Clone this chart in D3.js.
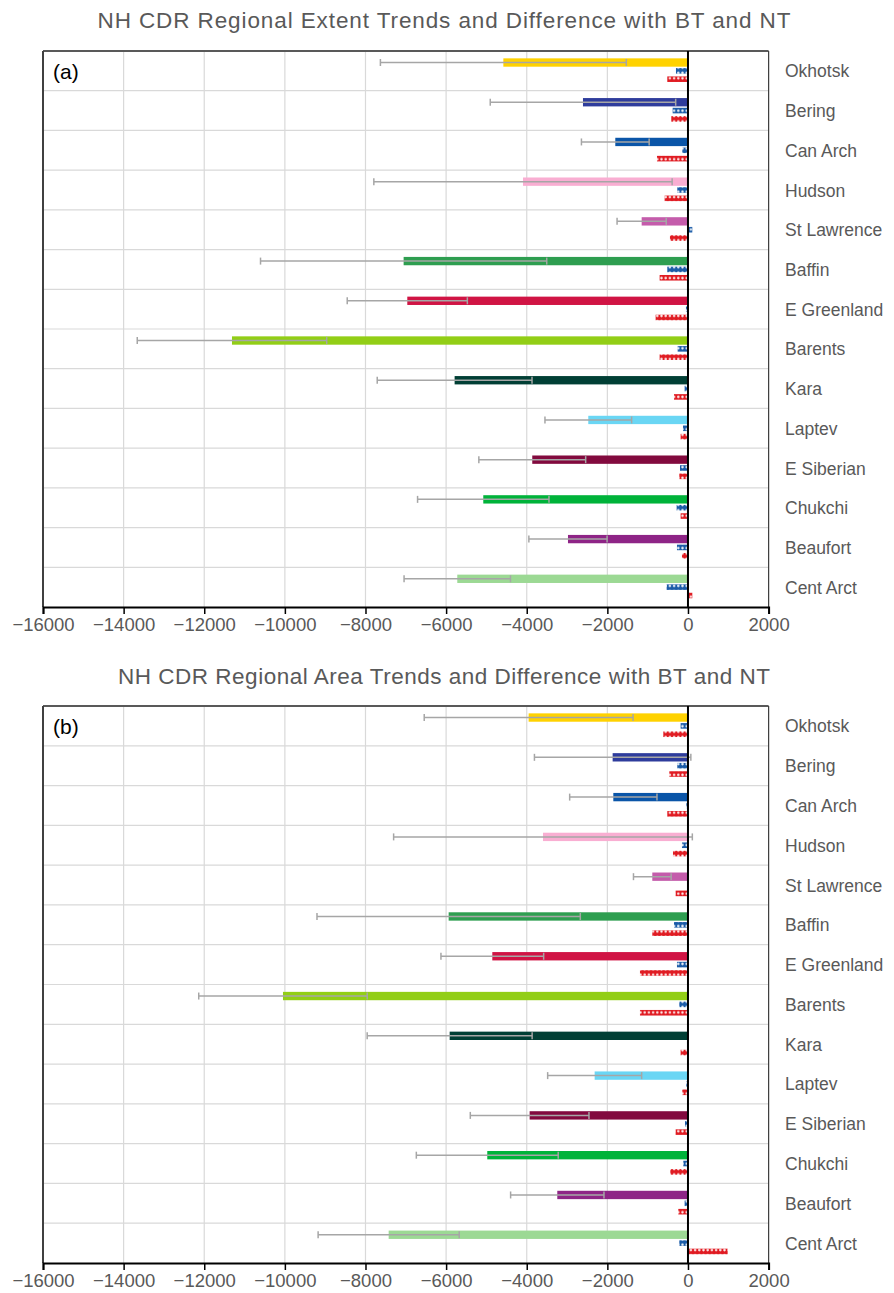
<!DOCTYPE html>
<html>
<head>
<meta charset="utf-8">
<script src="https://cdn.jsdelivr.net/npm/d3@7/dist/d3.min.js"></script>
<style>
  html, body { margin: 0; padding: 0; background: #fff; }
  svg { display: block; font-family: "Liberation Sans", Arial, sans-serif; }
</style>
</head>
<body>
<svg id="chart" width="894" height="1293"></svg>
<script>
// Regions, top to bottom
const regions = ["Okhotsk", "Bering", "Can Arch", "Hudson", "St Lawrence", "Baffin",
  "E Greenland", "Barents", "Kara", "Laptev", "E Siberian", "Chukchi", "Beaufort", "Cent Arct"];

const regionColors = ["#FFD200", "#2E3C9C", "#0A55A8", "#F9AED2", "#C45CAB", "#2E9E50",
  "#D01444", "#92CE16", "#013F35", "#6AD6F4", "#820A3E", "#00B33A", "#8E2486", "#9CD994"];

// Extent: CDR trend, its uncertainty, and differences with BT and NT (km² per year)
const extentCDR = [-4580, -2605, -1803, -4093, -1149, -7054, -6963, -11312, -5789, -2473, -3863, -5078, -2977, -5723];
const extentErr = [3050, 2300, 840, 3700, 610, 3550, 1490, 2350, 1920, 1075, 1325, 1630, 970, 1320];
const extentBT  = [-298, -380, -141, -265, 107, -513, -50, -256, -83, -124, -198, -281, -273, -529];
const extentNT  = [-513, -414, -769, -579, -447, -703, -802, -703, -347, -182, -215, -182, -149, 107];

// Area: CDR trend, its uncertainty, and differences with BT and NT
const areaCDR = [-3953, -1869, -1852, -3597, -885, -5937, -4854, -10047, -5912, -2315, -3928, -4979, -3242, -7425];
const areaErr = [2590, 1940, 1083, 3705, 467, 3266, 1274, 2090, 2046, 1166, 1472, 1760, 1158, 1750];
const areaBT  = [-182, -265, -41, -149, 0, -347, -273, -215, -25, -41, -74, -116, -83, -215];
const areaNT  = [-612, -463, -513, -372, -306, -885, -1191, -1191, -182, -141, -306, -438, -240, 984];

const xTicks = [-16000, -14000, -12000, -10000, -8000, -6000, -4000, -2000, 0, 2000];

const panels = [
  { title: "NH CDR Regional Extent Trends and Difference with BT and NT", tag: "(a)",
    cdr: extentCDR, err: extentErr, bt: extentBT, nt: extentNT, top: 51, bottom: 607, titleY: 28, titleW: 693 },
  { title: "NH CDR Regional Area Trends and Difference with BT and NT", tag: "(b)",
    cdr: areaCDR, err: areaErr, bt: areaBT, nt: areaNT, top: 706, bottom: 1263, titleY: 684, titleW: 652 }
];

const svg = d3.select("#chart");
const x = d3.scaleLinear().domain([-16000, 2000]).range([43, 768.6]);

// Dotted fills for the BT and NT difference bars
const defs = svg.append("defs");
function dotPattern(id, color) {
  const p = defs.append("pattern").attr("id", id)
    .attr("patternUnits", "userSpaceOnUse").attr("width", 4.2).attr("height", 5.4);
  p.append("rect").attr("width", 4.2).attr("height", 5.4).attr("fill", color);
  p.append("ellipse").attr("cx", 2.1).attr("cy", 2.7).attr("rx", 1.2).attr("ry", 1.3).attr("fill", "#fff").attr("opacity", 0.9);
}

panels.forEach((pn, pi) => {
  const y = d3.scaleBand().domain(regions).range([pn.top, pn.bottom]).padding(0);
  const bw = y.bandwidth();
  const g = svg.append("g");

  dotPattern("btDots" + pi, "#1B5CA8");
  dotPattern("ntDots" + pi, "#E01B22");

  // Title
  g.append("text").attr("x", 444).attr("y", pn.titleY).attr("text-anchor", "middle")
    .attr("font-size", 22.5).attr("fill", "#595959")
    .attr("textLength", pn.titleW).attr("lengthAdjust", "spacing").text(pn.title);

  // Vertical gridlines
  g.selectAll(".vgrid").data(xTicks.filter(t => t > -16000 && t !== 0)).join("line")
    .attr("x1", d => x(d)).attr("x2", d => x(d))
    .attr("y1", pn.top).attr("y2", pn.bottom)
    .attr("stroke", "#d9d9d9").attr("stroke-width", 1.2);

  // Horizontal band separators
  g.selectAll(".hgrid").data(regions.slice(1)).join("line")
    .attr("x1", x(-16000)).attr("x2", x(2000))
    .attr("y1", d => y(d)).attr("y2", d => y(d))
    .attr("stroke", "#d9d9d9").attr("stroke-width", 1.2);

  // Frame: top, left and right edges
  g.append("line").attr("x1", x(-16000)).attr("x2", x(2000)).attr("y1", pn.top).attr("y2", pn.top)
    .attr("stroke", "#595959").attr("stroke-width", 2);
  g.append("line").attr("x1", x(-16000)).attr("x2", x(-16000)).attr("y1", pn.top).attr("y2", pn.bottom)
    .attr("stroke", "#404040").attr("stroke-width", 2);
  g.append("line").attr("x1", x(2000)).attr("x2", x(2000)).attr("y1", pn.top).attr("y2", pn.bottom)
    .attr("stroke", "#404040").attr("stroke-width", 1.2);

  const rows = regions.map((r, i) => ({ r, i, cdr: pn.cdr[i], err: pn.err[i], bt: pn.bt[i], nt: pn.nt[i], c: regionColors[i] }));

  // CDR trend bars
  g.selectAll(".cdr").data(rows).join("rect")
    .attr("x", d => x(Math.min(0, d.cdr))).attr("width", d => Math.abs(x(d.cdr) - x(0)))
    .attr("y", d => y(d.r) + bw * 0.185).attr("height", bw * 0.21)
    .attr("fill", d => d.c);

  // BT difference bars
  g.selectAll(".bt").data(rows).join("rect")
    .attr("x", d => x(Math.min(0, d.bt))).attr("width", d => Math.abs(x(d.bt) - x(0)))
    .attr("y", d => y(d.r) + bw * 0.43).attr("height", bw * 0.14)
    .attr("fill", "url(#btDots" + pi + ")");

  // NT difference bars
  g.selectAll(".nt").data(rows).join("rect")
    .attr("x", d => x(Math.min(0, d.nt))).attr("width", d => Math.abs(x(d.nt) - x(0)))
    .attr("y", d => y(d.r) + bw * 0.64).attr("height", bw * 0.14)
    .attr("fill", "url(#ntDots" + pi + ")");

  // Uncertainty whiskers on the CDR trend
  const ec = "#a6a6a6";
  const yc = d => y(d.r) + bw * 0.185 + bw * 0.105;
  g.selectAll(".ebar").data(rows).join("line")
    .attr("x1", d => x(d.cdr - d.err)).attr("x2", d => x(d.cdr + d.err))
    .attr("y1", yc).attr("y2", yc).attr("stroke", ec).attr("stroke-width", 1.5);
  g.selectAll(".ecapL").data(rows).join("line")
    .attr("x1", d => x(d.cdr - d.err)).attr("x2", d => x(d.cdr - d.err))
    .attr("y1", d => yc(d) - 3.5).attr("y2", d => yc(d) + 3.5).attr("stroke", ec).attr("stroke-width", 1.5);
  g.selectAll(".ecapR").data(rows).join("line")
    .attr("x1", d => x(d.cdr + d.err)).attr("x2", d => x(d.cdr + d.err))
    .attr("y1", d => yc(d) - 3.5).attr("y2", d => yc(d) + 3.5).attr("stroke", ec).attr("stroke-width", 1.5);

  // Zero line
  g.append("line").attr("x1", x(0)).attr("x2", x(0)).attr("y1", pn.top).attr("y2", pn.bottom)
    .attr("stroke", "#000").attr("stroke-width", 2);

  // Region labels
  g.selectAll(".lab").data(regions).join("text")
    .attr("x", 785).attr("y", d => y(d) + bw * 0.5 + 6.5)
    .attr("font-size", 17.5).attr("fill", "#595959").text(d => d);

  // Panel tag
  g.append("text").attr("x", 53).attr("y", pn.top + 28).attr("font-size", 21).attr("fill", "#000").text(pn.tag);

  // X axis
  const axis = g.append("g").attr("transform", `translate(0,${pn.bottom})`)
    .call(d3.axisBottom(x).tickValues(xTicks).tickFormat(d3.format("d")).tickSizeOuter(0).tickSize(7).tickPadding(2));
  axis.select(".domain").attr("stroke", "#000").attr("stroke-width", 2);
  axis.selectAll(".tick line").attr("stroke", "#000").attr("stroke-width", 1.5);
  axis.selectAll(".tick text").attr("font-size", 18.5).attr("fill", "#595959")
    .attr("font-family", "'Liberation Sans Narrow', 'Liberation Sans', Arial, sans-serif")
    .attr("dy", "0.8em");
});
</script>
</body>
</html>
